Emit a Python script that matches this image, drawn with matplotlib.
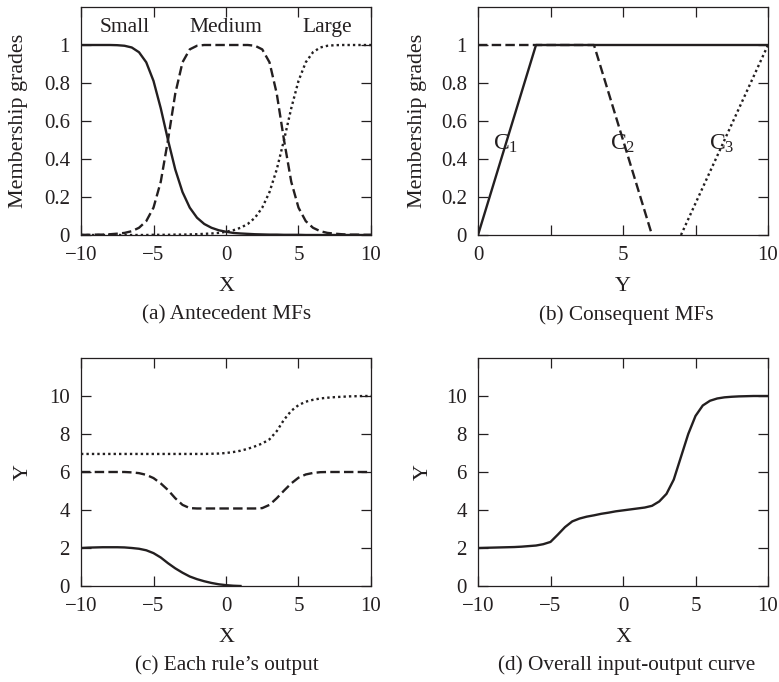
import matplotlib
matplotlib.use("Agg")
import matplotlib.pyplot as plt

plt.rcParams['font.family'] = ['Liberation Serif', 'DejaVu Serif']
plt.rcParams['mathtext.fontset'] = 'custom'
plt.rcParams['mathtext.rm'] = 'Liberation Serif'
plt.rcParams['mathtext.it'] = 'Liberation Serif'
plt.rcParams['font.size'] = 15

INK = '#231f20'

# x grid shared by the smooth curves (-10 .. 10, step 0.5)
x_grid = [-10, -9.5, -9, -8.5, -8, -7.5, -7, -6.5, -6, -5.5, -5, -4.5, -4, -3.5, -3, -2.5, -2, -1.5, -1, -0.5,
          0, 0.5, 1, 1.5, 2, 2.5, 3, 3.5, 4, 4.5, 5, 5.5, 6, 6.5, 7, 7.5, 8, 8.5, 9, 9.5, 10]

# (a) antecedent MFs
mf_small = [1, 1, 1, 1, 1, 0.999, 0.996, 0.987, 0.962, 0.909, 0.811, 0.667, 0.5, 0.345, 0.226, 0.144, 0.091,
            0.058, 0.038, 0.025, 0.017, 0.011, 0.008, 0.006, 0.004, 0.003, 0.002, 0.002, 0.001, 0.001, 0.001,
            0, 0, 0, 0, 0, 0, 0, 0, 0, 0]
mf_medium = [0.001, 0.001, 0.002, 0.002, 0.004, 0.007, 0.011, 0.020, 0.038, 0.073, 0.144, 0.280, 0.5, 0.744,
             0.909, 0.977, 0.996, 1, 1, 1, 1, 1, 1, 1, 0.996, 0.977, 0.909, 0.744, 0.5, 0.280, 0.144, 0.073,
             0.038, 0.020, 0.011, 0.007, 0.004, 0.002, 0.002, 0.001, 0.001]
mf_large = [0, 0, 0, 0, 0, 0, 0, 0, 0, 0, 0.001, 0.001, 0.001, 0.002, 0.002, 0.003, 0.004, 0.006, 0.008, 0.011,
            0.017, 0.025, 0.038, 0.058, 0.091, 0.144, 0.226, 0.345, 0.5, 0.667, 0.811, 0.909, 0.962, 0.987,
            0.996, 0.999, 1, 1, 1, 1, 1]
mf_names = ['Small', 'Medium', 'Large']
mf_name_x = [-7, 0, 7]

# (b) consequent MFs (piecewise linear)
c1_x, c1_y = [0, 2, 10], [0, 1, 1]
c2_x, c2_y = [0, 4, 6], [1, 1, 0]
c3_x, c3_y = [7, 10], [0, 1]
c_label_x = [0.95, 5.0, 8.4]
c_labels = ['C$_1$', 'C$_2$', 'C$_3$']

# (c) each rule's output
rule1_x = [-10, -9.5, -9, -8.5, -8, -7.5, -7, -6.5, -6, -5.5, -5, -4.5, -4, -3.5, -3, -2.5, -2, -1.5, -1, -0.5,
           0, 0.5, 1]
rule1_y = [2.0, 2.02, 2.03, 2.04, 2.04, 2.04, 2.03, 2.0, 1.96, 1.88, 1.73, 1.5, 1.2, 0.93, 0.7, 0.5, 0.36, 0.25,
           0.16, 0.09, 0.045, 0.015, 0]
rule2_y = [6, 6, 6, 6, 6, 6, 6, 5.98, 5.94, 5.85, 5.68, 5.4, 5.05, 4.62, 4.27, 4.1, 4.08, 4.08, 4.08, 4.08,
           4.08, 4.08, 4.08, 4.08, 4.08, 4.1, 4.27, 4.62, 5.02, 5.4, 5.7, 5.87, 5.95, 5.99, 6, 6, 6, 6, 6, 6, 6]
rule3_y = [6.95, 6.95, 6.95, 6.95, 6.95, 6.95, 6.95, 6.95, 6.95, 6.95, 6.95, 6.95, 6.95, 6.95, 6.95, 6.95,
           6.95, 6.95, 6.96, 6.97, 7.0, 7.05, 7.12, 7.22, 7.35, 7.5, 7.72, 8.15, 8.75, 9.22, 9.52, 9.7, 9.8,
           9.87, 9.91, 9.94, 9.96, 9.98, 9.99, 10, 10]

# (d) overall input-output curve
overall_y = [2.0, 2.01, 2.02, 2.03, 2.04, 2.05, 2.07, 2.1, 2.13, 2.2, 2.32, 2.7, 3.1, 3.4, 3.55, 3.65, 3.72,
             3.8, 3.86, 3.93, 3.98, 4.03, 4.08, 4.13, 4.22, 4.45, 4.85, 5.6, 6.8, 8.0, 8.95, 9.5, 9.75, 9.87,
             9.93, 9.96, 9.98, 9.99, 10, 10, 10]

fig = plt.figure(figsize=(7.79, 6.82), dpi=100)
W, H = 779, 682


def make_axes(left, top, right, bottom):
    return fig.add_axes([left / W, 1 - bottom / H, (right - left) / W, (bottom - top) / H])


def style(ax, ylab_x, xlab_y):
    ax.tick_params(which='both', direction='in', top=True, right=True, length=7, width=0.9,
                   color=INK, labelcolor=INK)
    ax.tick_params(axis='x', pad=8)
    ax.tick_params(axis='y', pad=8)
    for s in ax.spines.values():
        s.set_linewidth(0.9)
        s.set_color(INK)
    ax.yaxis.set_label_coords(ylab_x, 0.5)
    ax.xaxis.set_label_coords(0.5, xlab_y)


LW = 1.7
DASH = (4, 1.8)
DOT = (1, 1.3)
LABEL_FS = 15.8

ax_a = make_axes(81, 7, 371, 235)
ax_b = make_axes(478, 7, 768, 235)
ax_c = make_axes(81, 358, 371, 586)
ax_d = make_axes(478, 358, 768, 586)

# (a)
ax_a.plot(x_grid, mf_small, color=INK, lw=LW)
ax_a.plot(x_grid, mf_medium, color=INK, lw=LW, dashes=DASH)
ax_a.plot(x_grid, mf_large, color=INK, lw=LW, dashes=DOT)
for name, nx_ in zip(mf_names, mf_name_x):
    ax_a.text(nx_, 1.09, name, ha='center', va='center', color=INK, fontsize=15.5)
ax_a.set_xlim(-10, 10)
ax_a.set_ylim(0, 1.2)
ax_a.set_xticks([-10, -5, 0, 5, 10])
ax_a.set_yticks([0, 0.2, 0.4, 0.6, 0.8, 1])
ax_a.set_yticklabels(['0', '0.2', '0.4', '0.6', '0.8', '1'])
ax_a.set_xlabel('X', color=INK, fontsize=LABEL_FS, va='center')
ax_a.set_ylabel('Membership grades', color=INK, fontsize=LABEL_FS, va='center')

# (b)
ax_b.plot(c1_x, c1_y, color=INK, lw=LW)
ax_b.plot(c2_x, c2_y, color=INK, lw=LW, dashes=DASH)
ax_b.plot(c3_x, c3_y, color=INK, lw=LW, dashes=DOT)
for lx, lab in zip(c_label_x, c_labels):
    ax_b.text(lx, 0.48, lab, ha='center', va='center', color=INK, fontsize=17)
ax_b.set_xlim(0, 10)
ax_b.set_ylim(0, 1.2)
ax_b.set_xticks([0, 2.5, 5, 7.5, 10])
ax_b.set_xticklabels(['0', '', '5', '', '10'])
ax_b.set_yticks([0, 0.2, 0.4, 0.6, 0.8, 1])
ax_b.set_yticklabels(['0', '0.2', '0.4', '0.6', '0.8', '1'])
ax_b.set_xlabel('Y', color=INK, fontsize=LABEL_FS, va='center')
ax_b.set_ylabel('Membership grades', color=INK, fontsize=LABEL_FS, va='center')

# (c)
ax_c.plot(rule1_x, rule1_y, color=INK, lw=LW)
ax_c.plot(x_grid, rule2_y, color=INK, lw=LW, dashes=DASH)
ax_c.plot(x_grid, rule3_y, color=INK, lw=LW, dashes=DOT)
ax_c.set_xlim(-10, 10)
ax_c.set_ylim(0, 12)
ax_c.set_xticks([-10, -5, 0, 5, 10])
ax_c.set_yticks([0, 2, 4, 6, 8, 10])
ax_c.set_xlabel('X', color=INK, fontsize=LABEL_FS, va='center')
ax_c.set_ylabel('Y', color=INK, fontsize=LABEL_FS, va='center')

# (d)
ax_d.plot(x_grid, overall_y, color=INK, lw=LW)
ax_d.set_xlim(-10, 10)
ax_d.set_ylim(0, 12)
ax_d.set_xticks([-10, -5, 0, 5, 10])
ax_d.set_yticks([0, 2, 4, 6, 8, 10])
ax_d.set_xlabel('X', color=INK, fontsize=LABEL_FS, va='center')
ax_d.set_ylabel('Y', color=INK, fontsize=LABEL_FS, va='center')

style(ax_a, -0.217, -0.228)
style(ax_b, -0.21, -0.228)
style(ax_c, -0.2, -0.224)
style(ax_d, -0.19, -0.224)

captions = ['(a) Antecedent MFs', '(b) Consequent MFs', '(c) Each rule\u2019s output',
            '(d) Overall input-output curve']
cap_pos = [(227, 315), (626, 315), (227, 665), (627, 665)]
for cap, (cx, cy) in zip(captions, cap_pos):
    fig.text(cx / W, 1 - cy / H, cap, ha='center', va='center', color=INK, fontsize=15.3)

fig.savefig('out.png', dpi=100)
